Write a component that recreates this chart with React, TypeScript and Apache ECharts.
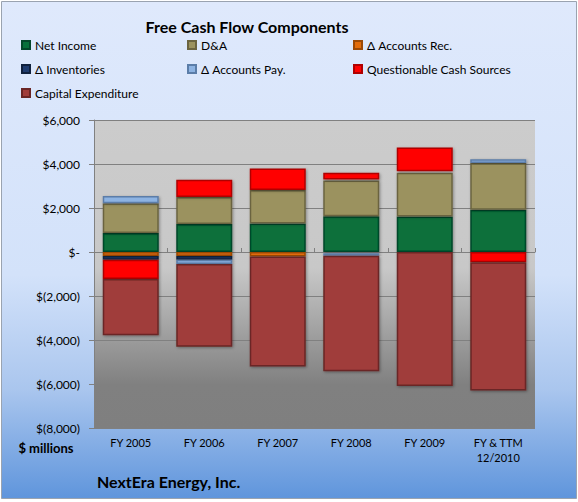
import React, { useEffect, useRef } from "react";
import * as echarts from "echarts";

const categories = ["FY 2005", "FY 2006", "FY 2007", "FY 2008", "FY 2009", "FY & TTM\n12/2010"];
const netIncome = [860, 1270, 1290, 1620, 1615, 1920];
const depAmort = [1360, 1230, 1530, 1630, 1990, 2120];
const accountsRec = [-180, -180, -210, 50, 0, 0];
const inventories = [-170, -170, 0, -60, 60, 0];
const accountsPay = [330, -200, 0, -110, 0, 180];
const questionable = [-880, 780, 980, 300, 1090, -470];
const capex = [-2550, -3760, -5000, -5250, -6090, -5830];
const yTicks = { min: -8000, max: 6000, interval: 2000 };

const seriesDefs = [
  { name: "Net Income", data: netIncome, color: "#07703a", border: "#04472a" },
  { name: "D&A", data: depAmort, color: "#9b925e", border: "#6b6440" },
  { name: "Δ Accounts Rec.", data: accountsRec, color: "#e36c0a", border: "#9c4a06" },
  { name: "Δ Inventories", data: inventories, color: "#1f3c6e", border: "#10213d" },
  { name: "Δ Accounts Pay.", data: accountsPay, color: "#8db3e2", border: "#5b7da8" },
  { name: "Questionable Cash Sources", data: questionable, color: "#ff0000", border: "#b00000" },
  { name: "Capital Expenditure", data: capex, color: "#a03d3b", border: "#6a2625" },
];

const FONT = "Lato";

function fmt(v: number): string {
  if (v === 0) return "$-";
  const s = Math.abs(v).toLocaleString("en-US");
  return v < 0 ? "$(" + s + ")" : "$" + s;
}

export default function App() {
  const ref = useRef<HTMLDivElement>(null);
  useEffect(() => {
    if (!ref.current) return;
    const chart = echarts.init(ref.current, undefined, { renderer: "svg" });
    const legendBase = {
      orient: "vertical" as const,
      itemWidth: 8,
      itemHeight: 8,
      itemGap: 12,
      icon: "rect",
      textStyle: { fontFamily: FONT, fontSize: 12, color: "#000" },
      padding: 0,
    };
    chart.setOption({
      animation: false,
      textStyle: { fontFamily: FONT },
      graphic: [
        {
          type: "rect",
          z: -100,
          shape: { x: 1.5, y: 1.5, width: 575, height: 497 },
          style: {
            fill: new echarts.graphic.LinearGradient(0, 0, 0, 1, [
              { offset: 0, color: "#dfe9fc" },
              { offset: 0.55, color: "#d3e2fa" },
              { offset: 0.78, color: "#aac6ee" },
              { offset: 1, color: "#5f95dc" },
            ]),
            stroke: "#9aa3b0",
            lineWidth: 1,
          },
        },
        {
          type: "text",
          x: 247,
          y: 26,
          style: {
            text: "Free Cash Flow Components",
            font: "bold 16px " + FONT,
            fill: "#000",
            textAlign: "center",
            textVerticalAlign: "middle",
          },
        },
        {
          type: "text",
          x: 46,
          y: 448,
          style: {
            text: "$ millions",
            font: "bold 13px " + FONT,
            fill: "#000",
            textAlign: "center",
            textVerticalAlign: "middle",
          },
        },
        {
          type: "text",
          x: 97,
          y: 481,
          style: {
            text: "NextEra Energy, Inc.",
            font: "bold 16px " + FONT,
            fill: "#000",
            textAlign: "left",
            textVerticalAlign: "middle",
          },
        },
      ],
      legend: [
        { ...legendBase, left: 21, top: 39, data: ["Net Income", "Δ Inventories", "Capital Expenditure"] },
        { ...legendBase, left: 187, top: 39, data: ["D&A", "Δ Accounts Pay."] },
        { ...legendBase, left: 353, top: 39, data: ["Δ Accounts Rec.", "Questionable Cash Sources"] },
      ],
      grid: {
        left: 94,
        right: 43,
        top: 120,
        bottom: 74,
        show: true,
        borderWidth: 0,
        backgroundColor: new echarts.graphic.LinearGradient(0, 0, 0, 1, [
          { offset: 0, color: "#cccccc" },
          { offset: 0.48, color: "#c8c8c8" },
          { offset: 0.86, color: "#808080" },
          { offset: 1, color: "#7f7f7f" },
        ]),
      },
      xAxis: [
        {
          type: "category",
          data: categories,
          position: "bottom",
          axisLine: { show: false, onZero: false },
          axisTick: { show: false },
          axisLabel: {
            fontFamily: FONT,
            fontSize: 11,
            color: "#000",
            margin: 7,
            lineHeight: 15,
            interval: 0,
          },
        },
        {
          type: "category",
          data: categories,
          position: "top",
          axisLine: { show: true, onZero: true, lineStyle: { color: "#808080", width: 1 } },
          axisTick: { show: true, inside: false, length: 4, lineStyle: { color: "#808080" } },
          axisLabel: { show: false },
          splitLine: { show: false },
        },
      ],
      yAxis: {
        type: "value",
        min: yTicks.min,
        max: yTicks.max,
        interval: yTicks.interval,
        axisLine: { show: true, lineStyle: { color: "#808080" } },
        axisTick: { show: true, length: 5, lineStyle: { color: "#808080" } },
        axisLabel: {
          fontFamily: FONT,
          fontSize: 12,
          color: "#000",
          margin: 14,
          formatter: (v: number) => fmt(v),
        },
        splitLine: { show: true, lineStyle: { color: "#808080", width: 1 } },
      },
      series: seriesDefs.map((s) => ({
        name: s.name,
        type: "bar",
        stack: "total",
        xAxisIndex: 0,
        barWidth: 56,
        data: s.data.map((v) => (v === 0 ? "-" : v)),
        itemStyle: {
          color: s.color,
          borderColor: s.border,
          borderWidth: 1.5,
          shadowBlur: 3,
          shadowColor: "rgba(0,0,0,0.35)",
          shadowOffsetX: 1,
          shadowOffsetY: 1,
        },
      })),
    });
    return () => chart.dispose();
  }, []);
  return (
    <div style={{ position: "fixed", left: 0, top: 0, width: 578, height: 502, background: "#fff" }}>
      <div ref={ref} style={{ width: 578, height: 502 }} />
    </div>
  );
}
